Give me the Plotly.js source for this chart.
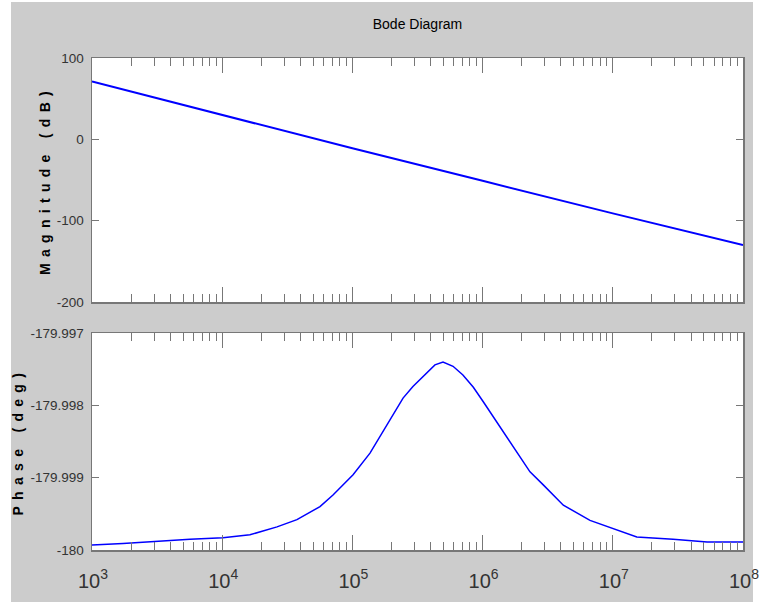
<!DOCTYPE html>
<html>
<head>
<meta charset="utf-8">
<script src="https://cdn.plot.ly/plotly-3.0.1.min.js"></script>
<style>
  html, body { margin:0; padding:0; background:#ffffff; }
  #chart { position:absolute; left:11px; top:2px; width:748px; height:600px; }
  .annotation-text { letter-spacing: 6.3px; }
</style>
</head>
<body>
<div id="chart"></div>
<script>
// Magnitude data (frequency in rad/s, magnitude in dB)
const magFreq = [1e3, 1e4, 1e5, 1e6, 1e7, 1e8];
const magDb   = [71, 30, -11, -51, -91, -130];

// Phase data (frequency in rad/s, phase in degrees)
const phaseFreq = [1000, 1730, 5660, 10140, 16330, 26360, 37500, 56360, 70960, 101200,
                   136500, 194500, 244900, 291700, 374000, 430500, 496600, 593000, 706000, 849200,
                   1012000, 1282000, 1828000, 2312000, 2924000, 4169000, 6683000, 10090000, 15280000, 29040000,
                   52970000, 100000000];
const phaseDeg  = [-179.99993, -179.99991, -179.99985, -179.99983, -179.99979, -179.99968, -179.99958, -179.99940, -179.99924, -179.99896,
                   -179.99866, -179.99820, -179.99790, -179.99774, -179.99754, -179.99744, -179.99740, -179.99746, -179.99758, -179.99775,
                   -179.99795, -179.99823, -179.99864, -179.99892, -179.99910, -179.99938, -179.99959, -179.99970, -179.99982, -179.99985,
                   -179.99989, -179.99989];

// Tick definitions
const freqTicks     = [1e3, 1e4, 1e5, 1e6, 1e7, 1e8];
const freqTickText  = ['10<sup>3</sup>', '10<sup>4</sup>', '10<sup>5</sup>', '10<sup>6</sup>', '10<sup>7</sup>', '10<sup>8</sup>'];
const magTicks      = [-200, -100, 0, 100];
const magTickText   = ['-200', '-100', '0', '100'];
const phaseTicks    = [-180, -179.999, -179.998, -179.997];
const phaseTickText = ['-180', '-179.999', '-179.998', '-179.997'];

const minorTicks = [];
for (let d = 0; d < freqTicks.length - 1; d++) {
  for (let k = 2; k <= 9; k++) minorTicks.push(k * freqTicks[d]);
}

const sans = 'Liberation Sans, Arial, sans-serif';
const axisGray = '#777777';

function xAxis(extra) {
  return Object.assign({
    type: 'log', range: [3, 8],
    tickmode: 'array', tickvals: freqTicks, ticktext: freqTickText,
    ticks: 'inside', ticklen: 15, tickwidth: 1, tickcolor: axisGray,
    minor: { tickmode: 'array', tickvals: minorTicks, ticks: 'inside', ticklen: 8, tickwidth: 1, tickcolor: axisGray, showgrid: false },
    showline: true, linecolor: axisGray, linewidth: 1.5, mirror: 'ticks',
    showgrid: false, zeroline: false,
    tickfont: { family: sans, size: 20, color: '#333333' },
    ticklabeloverflow: 'allow',
    fixedrange: true
  }, extra);
}
function yAxis(extra) {
  return Object.assign({
    tickmode: 'array',
    ticks: 'inside', ticklen: 7, tickwidth: 1.5, tickcolor: axisGray,
    showline: true, linecolor: axisGray, linewidth: 1.5, mirror: 'ticks',
    showgrid: false, zeroline: false,
    tickfont: { family: sans, size: 13.5, color: '#333333' },
    ticklabelstandoff: 4,
    ticklabeloverflow: 'allow',
    fixedrange: true
  }, extra);
}

const traces = [
  { x: magFreq, y: magDb, xaxis: 'x2', yaxis: 'y2', type: 'scatter', mode: 'lines',
    line: { color: '#0000ff', width: 2 }, hoverinfo: 'skip' },
  { x: phaseFreq, y: phaseDeg, xaxis: 'x', yaxis: 'y', type: 'scatter', mode: 'lines',
    line: { color: '#0000ff', width: 1.5 }, hoverinfo: 'skip' }
];

const layout = {
  width: 748, height: 600,
  paper_bgcolor: '#cccccc', plot_bgcolor: '#ffffff',
  margin: { l: 81, r: 16, t: 56, b: 52 },
  showlegend: false,
  title: { text: 'Bode Diagram', font: { family: sans, size: 14, color: '#000000' },
           x: 0.5, xref: 'paper', xanchor: 'center', y: 1 - 22 / 600, yref: 'container', yanchor: 'middle' },
  xaxis: xAxis({ domain: [0, 1], anchor: 'y', ticklabelstandoff: 12, ticklabelshift: 1 }),
  xaxis2: xAxis({ domain: [0, 1], anchor: 'y2', showticklabels: false }),
  yaxis: yAxis({ domain: [0, 0.441], anchor: 'x', range: [-180, -179.997], tickvals: phaseTicks, ticktext: phaseTickText }),
  yaxis2: yAxis({ domain: [0.504, 1], anchor: 'x2', range: [-200, 100], tickvals: magTicks, ticktext: magTickText }),
  shapes: [
    // white page margin right of the grey figure window
    { type: 'rect', xref: 'paper', yref: 'paper', x0: 661 / 651, x1: 1.1, y0: -0.3, y1: 1.3,
      fillcolor: '#ffffff', line: { width: 0 }, layer: 'below' }
  ],
  annotations: [
    { text: '<b>Magnitude (dB)</b>', xref: 'paper', yref: 'paper', x: 0, y: 0.752, xanchor: 'center', yanchor: 'middle',
      xshift: -47, textangle: -90, showarrow: false, font: { family: sans, size: 14, color: '#000000' } },
    { text: '<b>Phase (deg)</b>', xref: 'paper', yref: 'paper', x: 0, y: 0.2205, xanchor: 'center', yanchor: 'middle',
      xshift: -74, textangle: -90, showarrow: false, font: { family: sans, size: 14, color: '#000000' } }
  ]
};

Plotly.newPlot('chart', traces, layout, { displayModeBar: false, staticPlot: true });
</script>
</body>
</html>
